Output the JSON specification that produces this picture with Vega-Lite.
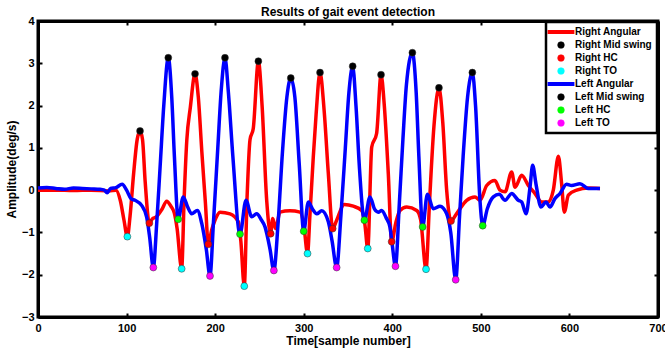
{
  "$schema": "https://vega.github.io/schema/vega-lite/v6.json",
  "width": 620,
  "height": 296,
  "autosize": {"type": "none"},
  "padding": {"left": 38, "top": 21, "right": 7, "bottom": 34},
  "background": "white",
  "title": {"text": "Results of gait event detection", "font": "Liberation Sans", "fontSize": 12, "fontWeight": "bold", "color": "black", "offset": -4, "anchor": "middle"},
  "config": {
    "view": {"stroke": "black", "strokeWidth": 3},
    "axis": {
      "grid": false,
      "domainColor": "black",
      "domainWidth": 3,
      "tickColor": "black",
      "tickWidth": 2,
      "tickSize": -4,
      "labelFont": "Liberation Sans",
      "labelFontSize": 11,
      "labelFontWeight": "bold",
      "labelColor": "black",
      "titleFont": "Liberation Sans",
      "titleFontSize": 12,
      "titleFontWeight": "bold",
      "titleColor": "black"
    }
  },
  "datasets": {
    "lines": [
      {"s": "Right Angular", "x": 0, "y": 0.0},
      {"s": "Right Angular", "x": 20, "y": 0.0},
      {"s": "Right Angular", "x": 40, "y": -0.01},
      {"s": "Right Angular", "x": 60, "y": 0.0},
      {"s": "Right Angular", "x": 80, "y": -0.02},
      {"s": "Right Angular", "x": 88, "y": 0.0},
      {"s": "Right Angular", "x": 93, "y": -0.25},
      {"s": "Right Angular", "x": 97, "y": -0.7},
      {"s": "Right Angular", "x": 100.9, "y": -1.1},
      {"s": "Right Angular", "x": 104, "y": -0.6},
      {"s": "Right Angular", "x": 108, "y": 0.4},
      {"s": "Right Angular", "x": 112, "y": 1.2},
      {"s": "Right Angular", "x": 115.2, "y": 1.4},
      {"s": "Right Angular", "x": 118, "y": 1.2},
      {"s": "Right Angular", "x": 121, "y": 0.2},
      {"s": "Right Angular", "x": 125.7, "y": -0.78},
      {"s": "Right Angular", "x": 129, "y": -0.68},
      {"s": "Right Angular", "x": 133, "y": -0.64},
      {"s": "Right Angular", "x": 140, "y": -0.45},
      {"s": "Right Angular", "x": 145.3, "y": -0.26},
      {"s": "Right Angular", "x": 150, "y": -0.38},
      {"s": "Right Angular", "x": 154, "y": -0.55},
      {"s": "Right Angular", "x": 157, "y": -0.9},
      {"s": "Right Angular", "x": 162.2, "y": -1.86},
      {"s": "Right Angular", "x": 165, "y": -0.2},
      {"s": "Right Angular", "x": 168, "y": 1.18},
      {"s": "Right Angular", "x": 172, "y": 1.96},
      {"s": "Right Angular", "x": 177.3, "y": 2.75},
      {"s": "Right Angular", "x": 181, "y": 2.2},
      {"s": "Right Angular", "x": 185, "y": 0.9},
      {"s": "Right Angular", "x": 189, "y": -0.3},
      {"s": "Right Angular", "x": 192.3, "y": -1.28},
      {"s": "Right Angular", "x": 196, "y": -0.95},
      {"s": "Right Angular", "x": 200, "y": -0.7},
      {"s": "Right Angular", "x": 205.5, "y": -0.52},
      {"s": "Right Angular", "x": 216.8, "y": -0.56},
      {"s": "Right Angular", "x": 226.2, "y": -0.75},
      {"s": "Right Angular", "x": 229, "y": -1.2},
      {"s": "Right Angular", "x": 232.9, "y": -2.27},
      {"s": "Right Angular", "x": 236, "y": -0.2},
      {"s": "Right Angular", "x": 239.4, "y": 1.2},
      {"s": "Right Angular", "x": 243, "y": 1.45},
      {"s": "Right Angular", "x": 248.8, "y": 3.05},
      {"s": "Right Angular", "x": 253, "y": 2.0},
      {"s": "Right Angular", "x": 258.2, "y": -0.24},
      {"s": "Right Angular", "x": 262.7, "y": -1.03},
      {"s": "Right Angular", "x": 265, "y": -0.67},
      {"s": "Right Angular", "x": 268.3, "y": -0.91},
      {"s": "Right Angular", "x": 273.2, "y": -0.52},
      {"s": "Right Angular", "x": 284.5, "y": -0.49},
      {"s": "Right Angular", "x": 295.8, "y": -0.52},
      {"s": "Right Angular", "x": 300, "y": -0.8},
      {"s": "Right Angular", "x": 304.3, "y": -1.5},
      {"s": "Right Angular", "x": 307, "y": -0.6},
      {"s": "Right Angular", "x": 310.8, "y": 0.78},
      {"s": "Right Angular", "x": 314, "y": 1.8},
      {"s": "Right Angular", "x": 318.4, "y": 2.78},
      {"s": "Right Angular", "x": 323, "y": 1.9},
      {"s": "Right Angular", "x": 327.8, "y": 0.39},
      {"s": "Right Angular", "x": 332.7, "y": -0.91},
      {"s": "Right Angular", "x": 337.2, "y": -0.71},
      {"s": "Right Angular", "x": 345.8, "y": -0.34},
      {"s": "Right Angular", "x": 356, "y": -0.38},
      {"s": "Right Angular", "x": 365.4, "y": -0.48},
      {"s": "Right Angular", "x": 369, "y": -0.8},
      {"s": "Right Angular", "x": 372.3, "y": -1.38},
      {"s": "Right Angular", "x": 376.8, "y": 1.02},
      {"s": "Right Angular", "x": 382.3, "y": 1.34},
      {"s": "Right Angular", "x": 387.3, "y": 2.73},
      {"s": "Right Angular", "x": 391, "y": 2.0},
      {"s": "Right Angular", "x": 395.5, "y": 0.39},
      {"s": "Right Angular", "x": 399.3, "y": -1.22},
      {"s": "Right Angular", "x": 404.2, "y": -0.75},
      {"s": "Right Angular", "x": 408.7, "y": -0.48},
      {"s": "Right Angular", "x": 416.3, "y": -0.4},
      {"s": "Right Angular", "x": 427.6, "y": -0.48},
      {"s": "Right Angular", "x": 432, "y": -0.7},
      {"s": "Right Angular", "x": 438.1, "y": -1.87},
      {"s": "Right Angular", "x": 442, "y": -0.3},
      {"s": "Right Angular", "x": 447, "y": 1.5},
      {"s": "Right Angular", "x": 452.7, "y": 2.42},
      {"s": "Right Angular", "x": 457, "y": 1.6},
      {"s": "Right Angular", "x": 461.4, "y": 0.0},
      {"s": "Right Angular", "x": 466.3, "y": -0.73},
      {"s": "Right Angular", "x": 472.5, "y": -0.56},
      {"s": "Right Angular", "x": 484, "y": -0.24},
      {"s": "Right Angular", "x": 493.4, "y": -0.16},
      {"s": "Right Angular", "x": 499, "y": -0.24},
      {"s": "Right Angular", "x": 506.6, "y": 0.11},
      {"s": "Right Angular", "x": 515.9, "y": 0.23},
      {"s": "Right Angular", "x": 521.6, "y": 0.0},
      {"s": "Right Angular", "x": 527.3, "y": -0.04},
      {"s": "Right Angular", "x": 534.8, "y": 0.43},
      {"s": "Right Angular", "x": 538.6, "y": 0.07},
      {"s": "Right Angular", "x": 546.1, "y": 0.35},
      {"s": "Right Angular", "x": 553.6, "y": 0.11},
      {"s": "Right Angular", "x": 561.2, "y": -0.08},
      {"s": "Right Angular", "x": 568.7, "y": -0.28},
      {"s": "Right Angular", "x": 576.2, "y": -0.28},
      {"s": "Right Angular", "x": 581.8, "y": 0.0},
      {"s": "Right Angular", "x": 587.5, "y": 0.8},
      {"s": "Right Angular", "x": 591.2, "y": 0.15},
      {"s": "Right Angular", "x": 594.2, "y": -0.52},
      {"s": "Right Angular", "x": 598.8, "y": -0.12},
      {"s": "Right Angular", "x": 608.2, "y": 0.0},
      {"s": "Right Angular", "x": 621.4, "y": 0.05},
      {"s": "Right Angular", "x": 634.5, "y": 0.04},

      {"s": "Left Angular", "x": 0, "y": 0.05},
      {"s": "Left Angular", "x": 10, "y": 0.06},
      {"s": "Left Angular", "x": 20, "y": 0.04},
      {"s": "Left Angular", "x": 30, "y": 0.02},
      {"s": "Left Angular", "x": 40, "y": 0.05},
      {"s": "Left Angular", "x": 50, "y": 0.04},
      {"s": "Left Angular", "x": 60, "y": 0.03},
      {"s": "Left Angular", "x": 70, "y": 0.02},
      {"s": "Left Angular", "x": 75, "y": 0.0},
      {"s": "Left Angular", "x": 78, "y": -0.06},
      {"s": "Left Angular", "x": 82, "y": 0.04},
      {"s": "Left Angular", "x": 88, "y": 0.06},
      {"s": "Left Angular", "x": 95, "y": 0.14},
      {"s": "Left Angular", "x": 100, "y": 0.0},
      {"s": "Left Angular", "x": 105, "y": -0.2},
      {"s": "Left Angular", "x": 109.5, "y": -0.24},
      {"s": "Left Angular", "x": 117, "y": -0.36},
      {"s": "Left Angular", "x": 122.7, "y": -0.64},
      {"s": "Left Angular", "x": 126, "y": -1.1},
      {"s": "Left Angular", "x": 130.2, "y": -1.83},
      {"s": "Left Angular", "x": 134, "y": -0.8},
      {"s": "Left Angular", "x": 138, "y": 0.6},
      {"s": "Left Angular", "x": 142, "y": 2.0},
      {"s": "Left Angular", "x": 147.1, "y": 3.13},
      {"s": "Left Angular", "x": 151, "y": 2.2},
      {"s": "Left Angular", "x": 154, "y": 0.8},
      {"s": "Left Angular", "x": 158.3, "y": -0.69},
      {"s": "Left Angular", "x": 164, "y": -0.16},
      {"s": "Left Angular", "x": 169, "y": -0.4},
      {"s": "Left Angular", "x": 173.5, "y": -0.56},
      {"s": "Left Angular", "x": 179.9, "y": -0.48},
      {"s": "Left Angular", "x": 185, "y": -0.8},
      {"s": "Left Angular", "x": 190, "y": -1.4},
      {"s": "Left Angular", "x": 194.2, "y": -2.03},
      {"s": "Left Angular", "x": 198, "y": -0.8},
      {"s": "Left Angular", "x": 203, "y": 1.0},
      {"s": "Left Angular", "x": 207, "y": 2.4},
      {"s": "Left Angular", "x": 211.1, "y": 3.13},
      {"s": "Left Angular", "x": 215, "y": 2.3},
      {"s": "Left Angular", "x": 220, "y": 0.8},
      {"s": "Left Angular", "x": 228.1, "y": -1.04},
      {"s": "Left Angular", "x": 234.8, "y": -0.24},
      {"s": "Left Angular", "x": 241.3, "y": -0.63},
      {"s": "Left Angular", "x": 246.9, "y": -0.56},
      {"s": "Left Angular", "x": 252, "y": -0.7},
      {"s": "Left Angular", "x": 256.3, "y": -0.87},
      {"s": "Left Angular", "x": 262, "y": -1.4},
      {"s": "Left Angular", "x": 266.3, "y": -1.9},
      {"s": "Left Angular", "x": 271, "y": -0.8},
      {"s": "Left Angular", "x": 276, "y": 0.9},
      {"s": "Left Angular", "x": 281, "y": 2.2},
      {"s": "Left Angular", "x": 285.4, "y": 2.65},
      {"s": "Left Angular", "x": 290, "y": 2.2},
      {"s": "Left Angular", "x": 295, "y": 0.6},
      {"s": "Left Angular", "x": 300, "y": -0.97},
      {"s": "Left Angular", "x": 305.2, "y": -0.28},
      {"s": "Left Angular", "x": 310, "y": -0.45},
      {"s": "Left Angular", "x": 314.7, "y": -0.56},
      {"s": "Left Angular", "x": 320.3, "y": -0.49},
      {"s": "Left Angular", "x": 327.8, "y": -0.75},
      {"s": "Left Angular", "x": 332, "y": -1.2},
      {"s": "Left Angular", "x": 337.2, "y": -1.83},
      {"s": "Left Angular", "x": 342, "y": -0.6},
      {"s": "Left Angular", "x": 347, "y": 1.0},
      {"s": "Left Angular", "x": 351, "y": 2.3},
      {"s": "Left Angular", "x": 355.3, "y": 2.93},
      {"s": "Left Angular", "x": 359, "y": 2.0},
      {"s": "Left Angular", "x": 363, "y": 0.5},
      {"s": "Left Angular", "x": 368.5, "y": -0.71},
      {"s": "Left Angular", "x": 374.8, "y": -0.16},
      {"s": "Left Angular", "x": 380, "y": -0.45},
      {"s": "Left Angular", "x": 384.2, "y": -0.52},
      {"s": "Left Angular", "x": 388, "y": -0.48},
      {"s": "Left Angular", "x": 393, "y": -0.65},
      {"s": "Left Angular", "x": 397.3, "y": -0.87},
      {"s": "Left Angular", "x": 400, "y": -1.3},
      {"s": "Left Angular", "x": 403.6, "y": -1.8},
      {"s": "Left Angular", "x": 408, "y": -0.3},
      {"s": "Left Angular", "x": 412, "y": 1.2},
      {"s": "Left Angular", "x": 416, "y": 2.5},
      {"s": "Left Angular", "x": 422.7, "y": 3.25},
      {"s": "Left Angular", "x": 427, "y": 2.3},
      {"s": "Left Angular", "x": 430, "y": 0.8},
      {"s": "Left Angular", "x": 434.3, "y": -0.87},
      {"s": "Left Angular", "x": 439.6, "y": -0.1},
      {"s": "Left Angular", "x": 446.3, "y": -0.44},
      {"s": "Left Angular", "x": 453.9, "y": -0.38},
      {"s": "Left Angular", "x": 461.4, "y": -0.56},
      {"s": "Left Angular", "x": 466, "y": -1.0},
      {"s": "Left Angular", "x": 471.6, "y": -2.12},
      {"s": "Left Angular", "x": 476, "y": -0.6},
      {"s": "Left Angular", "x": 480, "y": 0.8},
      {"s": "Left Angular", "x": 485, "y": 2.2},
      {"s": "Left Angular", "x": 490.4, "y": 2.78},
      {"s": "Left Angular", "x": 494, "y": 2.0},
      {"s": "Left Angular", "x": 499, "y": -0.24},
      {"s": "Left Angular", "x": 502.1, "y": -0.84},
      {"s": "Left Angular", "x": 507.3, "y": -0.44},
      {"s": "Left Angular", "x": 514.1, "y": -0.16},
      {"s": "Left Angular", "x": 520.8, "y": -0.1},
      {"s": "Left Angular", "x": 527.3, "y": -0.24},
      {"s": "Left Angular", "x": 534.8, "y": -0.08},
      {"s": "Left Angular", "x": 542.3, "y": -0.24},
      {"s": "Left Angular", "x": 546.1, "y": -0.28},
      {"s": "Left Angular", "x": 551, "y": -0.56},
      {"s": "Left Angular", "x": 555.5, "y": 0.07},
      {"s": "Left Angular", "x": 558.5, "y": 0.59},
      {"s": "Left Angular", "x": 562.2, "y": 0.15},
      {"s": "Left Angular", "x": 567.9, "y": -0.4},
      {"s": "Left Angular", "x": 573.5, "y": -0.28},
      {"s": "Left Angular", "x": 578, "y": -0.4},
      {"s": "Left Angular", "x": 583.6, "y": -0.2},
      {"s": "Left Angular", "x": 589.3, "y": -0.08},
      {"s": "Left Angular", "x": 596.8, "y": 0.14},
      {"s": "Left Angular", "x": 602.4, "y": 0.11},
      {"s": "Left Angular", "x": 611.9, "y": 0.15},
      {"s": "Left Angular", "x": 621.4, "y": 0.04},
      {"s": "Left Angular", "x": 634.5, "y": 0.04}
    ],
    "events": [
      {"s": "Right Mid swing", "x": 115.2, "y": 1.4},
      {"s": "Right Mid swing", "x": 177.3, "y": 2.75},
      {"s": "Right Mid swing", "x": 248.8, "y": 3.05},
      {"s": "Right Mid swing", "x": 318.4, "y": 2.78},
      {"s": "Right Mid swing", "x": 387.3, "y": 2.73},
      {"s": "Right Mid swing", "x": 452.7, "y": 2.42},
      {"s": "Right HC", "x": 125.7, "y": -0.78},
      {"s": "Right HC", "x": 192.3, "y": -1.28},
      {"s": "Right HC", "x": 262.7, "y": -1.03},
      {"s": "Right HC", "x": 332.7, "y": -0.91},
      {"s": "Right HC", "x": 399.3, "y": -1.22},
      {"s": "Right HC", "x": 466.3, "y": -0.73},
      {"s": "Right TO", "x": 100.9, "y": -1.1},
      {"s": "Right TO", "x": 162.2, "y": -1.86},
      {"s": "Right TO", "x": 232.9, "y": -2.27},
      {"s": "Right TO", "x": 304.3, "y": -1.5},
      {"s": "Right TO", "x": 372.3, "y": -1.38},
      {"s": "Right TO", "x": 438.1, "y": -1.87},
      {"s": "Left Mid swing", "x": 147.1, "y": 3.13},
      {"s": "Left Mid swing", "x": 211.1, "y": 3.13},
      {"s": "Left Mid swing", "x": 285.4, "y": 2.65},
      {"s": "Left Mid swing", "x": 355.3, "y": 2.93},
      {"s": "Left Mid swing", "x": 422.7, "y": 3.25},
      {"s": "Left Mid swing", "x": 490.4, "y": 2.78},
      {"s": "Left HC", "x": 158.3, "y": -0.69},
      {"s": "Left HC", "x": 228.1, "y": -1.04},
      {"s": "Left HC", "x": 300, "y": -0.97},
      {"s": "Left HC", "x": 368.5, "y": -0.71},
      {"s": "Left HC", "x": 434.3, "y": -0.87},
      {"s": "Left HC", "x": 502.1, "y": -0.84},
      {"s": "Left TO", "x": 130.2, "y": -1.83},
      {"s": "Left TO", "x": 194.2, "y": -2.03},
      {"s": "Left TO", "x": 266.3, "y": -1.9},
      {"s": "Left TO", "x": 337.2, "y": -1.83},
      {"s": "Left TO", "x": 403.6, "y": -1.8},
      {"s": "Left TO", "x": 471.6, "y": -2.12}
    ]
  },
  "layer": [
    {
      "data": {"name": "lines"},
      "mark": {"type": "line", "strokeWidth": 3.5, "interpolate": "monotone"},
      "encoding": {
        "x": {"field": "x", "type": "quantitative", "scale": {"domain": [0, 700], "nice": false, "zero": false},
              "axis": {"orient": "bottom", "values": [0, 100, 200, 300, 400, 500, 600, 700], "title": "Time[sample number]", "labelPadding": 9, "titlePadding": 2, "labelFlush": false}},
        "y": {"field": "y", "type": "quantitative", "scale": {"domain": [-3, 4], "nice": false, "zero": false},
              "axis": {"orient": "left", "values": [-3, -2, -1, 0, 1, 2, 3, 4], "title": "Amplitude(deg/s)", "labelPadding": 8, "titlePadding": 3, "labelFlush": false}},
        "color": {"field": "s", "type": "nominal",
          "scale": {"domain": ["Right Angular", "Right Mid swing", "Right HC", "Right TO", "Left Angular", "Left Mid swing", "Left HC", "Left TO"],
                    "range": ["#ff0000", "#000000", "#ff0000", "#00ffff", "#0000ff", "#000000", "#00ff00", "#ff00ff"]},
          "legend": {
            "title": null, "orient": "top-right", "offset": 1, "padding": 5, "rowPadding": 3,
            "labelOffset": 9, "symbolOffset": 5,
            "symbolSize": 45, "symbolStrokeWidth": 0.5,
            "fillColor": "white",
            "labelFont": "Liberation Sans", "labelFontSize": 10, "labelFontWeight": "bold", "labelColor": "black",
            "encode": {
              "legend": {"update": {"stroke": {"value": "black"}, "strokeWidth": {"value": 2.5}}},
              "symbols": {"update": {
                "shape": {"signal": "indexof(['Right Angular','Left Angular'], datum.value) >= 0 ? 'M-4,-0.6H4V0.6H-4Z' : 'circle'"},
                "size": {"value": 45},
                "fill": {"scale": "color", "field": "value"},
                "stroke": {"signal": "indexof(['Right Angular','Left Angular'], datum.value) >= 0 ? 'transparent' : '#333333'"},
                "strokeWidth": {"signal": "indexof(['Right Angular','Left Angular'], datum.value) >= 0 ? 0 : 0.5"},
                "opacity": {"value": 1}
              }}
            }
          }
        }
      }
    },
    {
      "data": {"name": "events"},
      "mark": {"type": "point", "filled": true, "size": 48, "stroke": "#333333", "strokeWidth": 0.5, "opacity": 1},
      "encoding": {
        "x": {"field": "x", "type": "quantitative", "axis": {"orient": "top", "values": [0, 100, 200, 300, 400, 500, 600, 700], "labels": false, "title": null}},
        "y": {"field": "y", "type": "quantitative", "axis": {"orient": "right", "values": [-3, -2, -1, 0, 1, 2, 3, 4], "labels": false, "title": null}},
        "color": {"field": "s", "type": "nominal"}
      }
    }
  ],
  "resolve": {"axis": {"x": "independent", "y": "independent"}}
}
